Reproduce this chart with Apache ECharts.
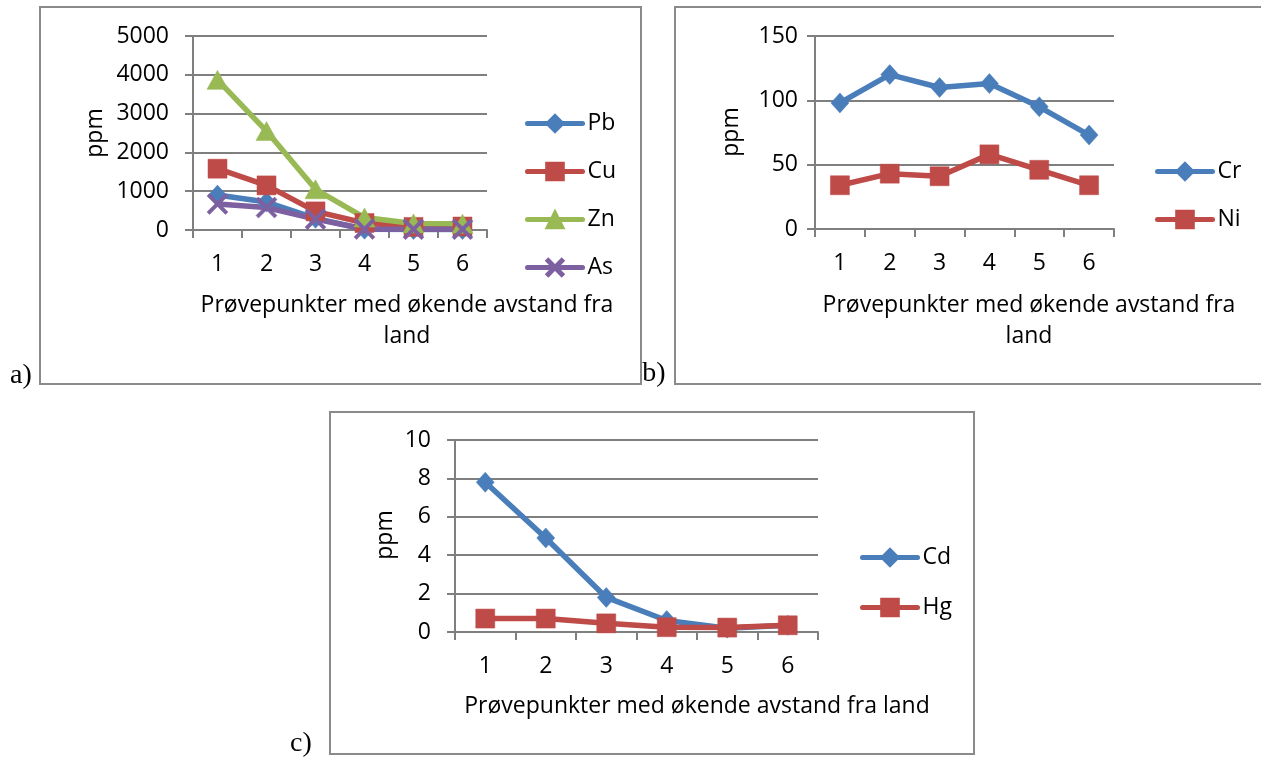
<!DOCTYPE html>
<html><head><meta charset="utf-8">
<script src="https://cdn.jsdelivr.net/npm/echarts@6/dist/echarts.min.js"></script>
<style>html,body{margin:0;padding:0;background:#fff}#c{width:1261px;height:758px}</style>
</head><body><div id="c"></div>
<script>
// ---- data ----
const categories = ['1', '2', '3', '4', '5', '6'];
const pbVals = [900, 720, 300, 20, 10, 10];
const cuVals = [1580, 1150, 480, 180, 80, 90];
const znVals = [3870, 2550, 1050, 320, 170, 160];
const asVals = [670, 580, 280, 25, 20, 20];
const crVals = [98, 120, 110, 113, 95, 73];
const niVals = [34, 43, 41, 58, 46, 34];
const cdVals = [7.8, 4.9, 1.8, 0.6, 0.2, 0.35];
const hgVals = [0.7, 0.7, 0.45, 0.25, 0.23, 0.35];
const yAxisA = { min: 0, max: 5000, interval: 1000 };
const yAxisB = { min: 0, max: 150, interval: 50 };
const yAxisC = { min: 0, max: 10, interval: 2 };
const xName = 'Prøvepunkter med økende avstand fra';
const xNameTail = 'land';
const yName = 'ppm';
const panelLabels = ['a)', 'b)', 'c)'];

// ---- styles ----
const FONT = '"Open Sans", "Noto Sans", sans-serif';
const GRAY = '#7f7f7f';
const BLUE = '#4A7EBB', RED = '#BE4B48', GREEN = '#98B954', PURPLE = '#7D60A0';
const CROSS = 'path://M0,1.2 L1.2,0 L5,3.8 L8.8,0 L10,1.2 L6.2,5 L10,8.8 L8.8,10 L5,6.2 L1.2,10 L0,8.8 L3.8,5 Z';

function xAxis(gi) {
  return {
    type: 'category', gridIndex: gi, data: categories, boundaryGap: true,
    axisLine: { show: true, lineStyle: { color: GRAY, width: 2 } },
    axisTick: { show: true, length: 8, inside: false, lineStyle: { color: GRAY, width: 2 } },
    axisLabel: { fontSize: 23, fontFamily: FONT, color: '#000', margin: 23 },
    splitLine: { show: false }
  };
}
function yAxis(gi, cfg, margin) {
  return {
    type: 'value', gridIndex: gi, min: cfg.min, max: cfg.max, interval: cfg.interval,
    axisLine: { show: true, lineStyle: { color: GRAY, width: 2 } },
    axisTick: { show: true, length: 8, lineStyle: { color: GRAY, width: 2 } },
    axisLabel: { fontSize: 23, fontFamily: FONT, color: '#000', margin: margin, formatter: v => String(v) },
    splitLine: { show: true, lineStyle: { color: GRAY, width: 2 } }
  };
}
function series(name, data, gi, color, symbol, size) {
  return {
    name, type: 'line', data, xAxisIndex: gi, yAxisIndex: gi,
    symbol, symbolSize: size, showSymbol: true, animation: false,
    lineStyle: { color, width: 5.5, cap: 'round', join: 'round' },
    itemStyle: { color, borderColor: color, borderWidth: 0.5 },
    emphasis: { disabled: true }
  };
}
function legend(names, left, top, gap) {
  return {
    data: names, orient: 'vertical', left, top, padding: 0,
    itemWidth: 55, itemHeight: 22, itemGap: gap,
    textStyle: { fontSize: 23, fontFamily: FONT, color: '#000' },
    lineStyle: { width: 5 }, selectedMode: false
  };
}
function txt(text, x, y, opts) {
  return Object.assign({
    type: 'text', x, y, silent: true,
    style: Object.assign({ text, fill: '#000', font: '23px ' + FONT, textAlign: 'center', textVerticalAlign: 'middle' }, (opts && opts.style) || {})
  }, (opts && opts.el) || {});
}
function frame(x, y, w, h) {
  return { type: 'rect', silent: true, shape: { x, y, width: w, height: h }, style: { fill: 'none', stroke: '#8a8a8a', lineWidth: 2 } };
}

const chart = echarts.init(document.getElementById('c'), null, { renderer: 'canvas' });
chart.setOption({
  animation: false,
  grid: [
    { left: 193, top: 36, width: 294, height: 194 },
    { left: 815, top: 36, width: 299, height: 193 },
    { left: 455, top: 440, width: 363, height: 192 }
  ],
  xAxis: [xAxis(0), xAxis(1), xAxis(2)],
  yAxis: [yAxis(0, yAxisA, 24), yAxis(1, yAxisB, 17), yAxis(2, yAxisC, 24)],
  legend: [
    legend(['Pb', 'Cu', 'Zn', 'As'], 525, 112, 25),
    legend(['Cr', 'Ni'], 1155, 160, 25),
    legend(['Cd', 'Hg'], 860, 546, 27)
  ],
  series: [
    series('Pb', pbVals, 0, BLUE, 'diamond', [18, 20]),
    series('Cu', cuVals, 0, RED, 'rect', 19),
    series('Zn', znVals, 0, GREEN, 'triangle', [21, 19]),
    series('As', asVals, 0, PURPLE, CROSS, 21),
    series('Cr', crVals, 1, BLUE, 'diamond', [18, 20]),
    series('Ni', niVals, 1, RED, 'rect', 19),
    series('Cd', cdVals, 2, BLUE, 'diamond', [18, 20]),
    series('Hg', hgVals, 2, RED, 'rect', 19)
  ],
  graphic: [
    frame(40, 7, 601, 377),
    frame(675, 7, 620, 377),
    frame(330, 412, 644, 342),
    txt(xName + '\n' + xNameTail, 407, 321, { style: { lineHeight: 31 } }),
    txt(xName + '\n' + xNameTail, 1029, 321, { style: { lineHeight: 31 } }),
    txt(xName + ' ' + xNameTail, 697, 706, {}),
    txt(yName, 95, 133, { el: { rotation: Math.PI / 2 } }),
    txt(yName, 731, 132, { el: { rotation: Math.PI / 2 } }),
    txt(yName, 385, 535, { el: { rotation: Math.PI / 2 } }),
    txt(panelLabels[0], 21, 376, { style: { font: '28px "Liberation Serif", serif' } }),
    txt(panelLabels[1], 654, 374, { style: { font: '28px "Liberation Serif", serif' } }),
    txt(panelLabels[2], 301, 744, { style: { font: '28px "Liberation Serif", serif' } })
  ]
});
</script></body></html>
